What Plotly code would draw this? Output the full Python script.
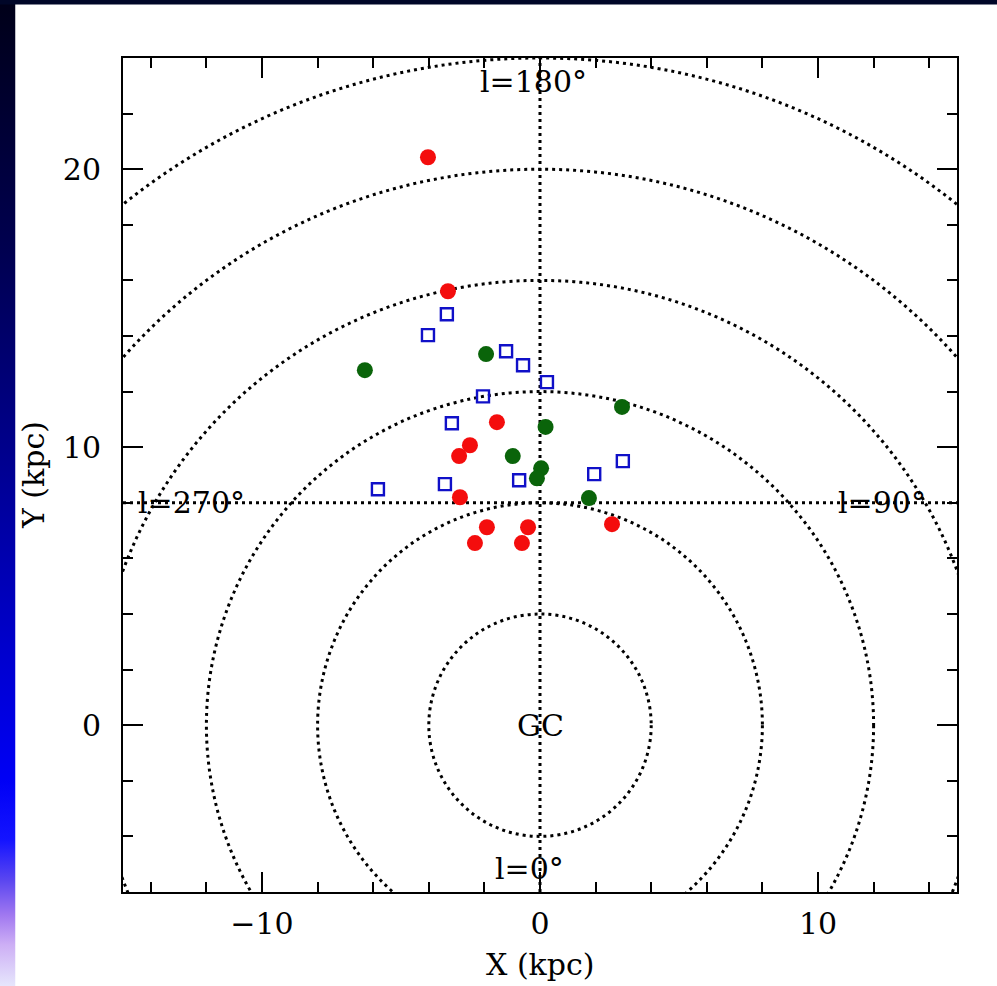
import base64
import plotly.graph_objects as go

# ---------------- data ----------------
red_x = [-4.03, -3.31, -1.55, -2.52, -2.91, -2.88, -1.91, -2.34, -0.43, -0.65, 2.59]
red_y = [20.43, 15.61, 10.90, 10.07, 9.68, 8.20, 7.12, 6.55, 7.12, 6.55, 7.23]

green_x = [-6.30, -1.94, 0.20, 2.95, -0.98, 0.04, -0.11, 1.76]
green_y = [12.77, 13.35, 10.73, 11.45, 9.68, 9.24, 8.88, 8.17]

blue_x = [-3.35, -4.03, -1.22, -0.61, 0.25, -2.05, -3.17, -5.83, -3.42, -0.75, 1.95, 2.98]
blue_y = [14.78, 14.03, 13.45, 12.95, 12.34, 11.83, 10.86, 8.49, 8.67, 8.81, 9.03, 9.50]

ring_radii = [4, 8, 12, 16, 20, 24]
sun_y = 8
gc_x = 0

x_range = [-15, 15]
y_range = [-6, 24]
x_ticks = [-10, 0, 10]
y_ticks = [0, 10, 20]

label_texts = ["l=180°", "l=0°", "l=270°", "l=90°", "GC"]
label_x = [-0.25, -0.36, -12.55, 12.3, 0.0]
label_y = [23.17, -5.14, 8.0, 8.0, 0.0]

# ---------------- figure ----------------
W, H = 997, 986
ML, MR, MT, MB = 123, 40, 58, 94
PW = W - ML - MR
PH = H - MT - MB
FONT = "DejaVu Serif"

fig = go.Figure()
fig.add_trace(go.Scatter(x=red_x, y=red_y, mode="markers",
                         marker=dict(symbol="circle", size=16, color="#f40d0d", line=dict(width=0)),
                         showlegend=False, hoverinfo="skip"))
fig.add_trace(go.Scatter(x=green_x, y=green_y, mode="markers",
                         marker=dict(symbol="circle", size=16, color="#0a640a", line=dict(width=0)),
                         showlegend=False, hoverinfo="skip"))
fig.add_trace(go.Scatter(x=blue_x, y=blue_y, mode="markers",
                         marker=dict(symbol="square-open", size=12, color="#1010c8",
                                     line=dict(width=2.4, color="#1010c8")),
                         showlegend=False, hoverinfo="skip"))

dot = dict(color="black", width=3, dash="3px,4px")
shapes = []
for r in ring_radii:
    shapes.append(dict(type="circle", xref="x", yref="y", x0=gc_x - r, x1=gc_x + r, y0=-r, y1=r,
                       line=dot, layer="below"))
shapes.append(dict(type="line", xref="x", yref="y", x0=x_range[0], x1=x_range[1], y0=sun_y, y1=sun_y,
                   line=dot, layer="below"))
shapes.append(dict(type="line", xref="x", yref="y", x0=gc_x, x1=gc_x, y0=y_range[0], y1=y_range[1],
                   line=dot, layer="below"))

# slide background strips (outside the plot)
def px2paper_x(px):
    return (px - ML) / PW

def px2paper_y(py):
    return (H - MB - py) / PH

shapes.append(dict(type="rect", xref="paper", yref="paper",
                   x0=px2paper_x(0), x1=px2paper_x(W + 2), y0=px2paper_y(4.5), y1=px2paper_y(-2),
                   fillcolor="#000628", line=dict(width=0), layer="below"))

stops = [(0, "#000018"), (250, "#000050"), (450, "#00008c"), (650, "#0000cd"),
         (780, "#0000f5"), (840, "#1414ff"), (880, "#5a46f0"), (915, "#a078f0"),
         (945, "#cdaff5"), (986, "#e6e6fc")]
svg_stops = "".join('<stop offset="%.4f" stop-color="%s"/>' % (p / H, c) for p, c in stops)
svg = ('<svg xmlns="http://www.w3.org/2000/svg" width="16" height="%d" preserveAspectRatio="none">'
       '<defs><linearGradient id="g" x1="0" y1="0" x2="0" y2="1">%s</linearGradient></defs>'
       '<rect x="0" y="0" width="16" height="%d" fill="url(#g)"/></svg>') % (H, svg_stops, H)
src = "data:image/svg+xml;base64," + base64.b64encode(svg.encode()).decode()

images = [dict(source=src, xref="paper", yref="paper", x=px2paper_x(0), y=px2paper_y(0),
               sizex=15.5 / PW, sizey=H / PH, xanchor="left", yanchor="top",
               sizing="stretch", layer="below")]

annotations = []
for t, x, y in zip(label_texts, label_x, label_y):
    annotations.append(dict(text=t, x=x, y=y, xref="x", yref="y", showarrow=False,
                            xanchor="center", yanchor="middle",
                            font=dict(family=FONT, size=30, color="black")))
annotations.append(dict(text="X (kpc)", x=0.5, y=px2paper_y(965), xref="paper", yref="paper",
                        showarrow=False, xanchor="center", yanchor="middle",
                        font=dict(family=FONT, size=30, color="black")))
annotations.append(dict(text="Y (kpc)", x=px2paper_x(33), y=0.5, xref="paper", yref="paper",
                        showarrow=False, xanchor="center", yanchor="middle", textangle=-90,
                        font=dict(family=FONT, size=30, color="black")))

axis_common = dict(showgrid=False, zeroline=False, showline=True, linecolor="black", linewidth=2,
                   mirror="allticks", ticks="inside", ticklen=20, tickwidth=2, tickcolor="black",
                   tickfont=dict(family=FONT, size=30, color="black"),
                   minor=dict(ticks="inside", ticklen=10, tickwidth=2, tickcolor="black", dtick=2))

fig.update_xaxes(range=x_range, tickmode="array", tickvals=x_ticks, ticklabelstandoff=4, **axis_common)
fig.update_yaxes(range=y_range, tickmode="array", tickvals=y_ticks, ticklabelstandoff=14, **axis_common)

fig.update_layout(width=W, height=H, margin=dict(l=ML, r=MR, t=MT, b=MB, autoexpand=False),
                  paper_bgcolor="white", plot_bgcolor="white",
                  shapes=shapes, images=images, annotations=annotations, showlegend=False)

fig.write_html("out.html", config=dict(displayModeBar=False))
